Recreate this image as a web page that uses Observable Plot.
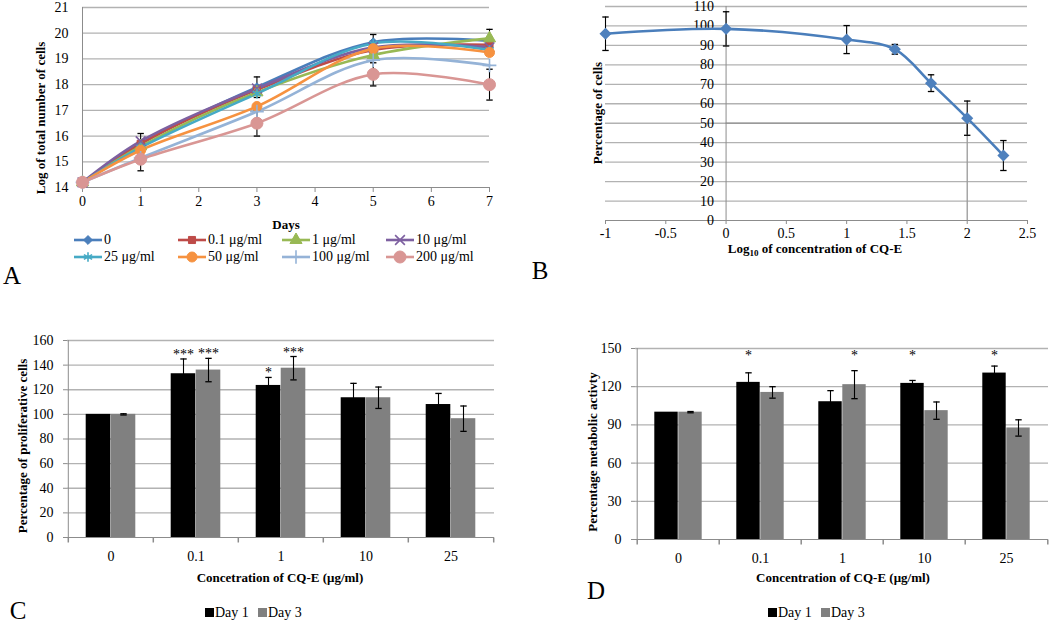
<!DOCTYPE html>
<html><head><meta charset="utf-8">
<script src="https://cdn.jsdelivr.net/npm/d3@7"></script>
<script src="https://cdn.jsdelivr.net/npm/@observablehq/plot@0.6"></script>
<style>
body{margin:0;background:#fff;font-family:"Liberation Serif",serif;}
#root{position:relative;width:1050px;height:623px;overflow:hidden;background:#fff;}
.t{position:absolute;white-space:nowrap;color:#000;line-height:1;}
.b{font-weight:bold;font-size:13px;}
.big{font-size:25px;}
.leg{font-size:14px;}
svg{overflow:visible;}
</style></head><body><div id="root"></div>
<script>
// ---------- Panel A data ----------
const days = [0, 1, 3, 5, 7];
const seriesA = ["0", "0.1 μg/ml", "1 μg/ml", "10 μg/ml", "25 μg/ml", "50 μg/ml", "100 μg/ml", "200 μg/ml"];
const logCells0   = [14.2, 15.7, 17.9, 19.65, 19.7];
const logCells01  = [14.2, 15.7, 17.8, 19.35, 19.55];
const logCells1   = [14.2, 15.6, 17.7, 19.15, 19.8];
const logCells10  = [14.2, 15.8, 17.85, 19.45, 19.45];
const logCells25  = [14.2, 15.55, 17.65, 19.6, 19.35];
const logCells50  = [14.2, 15.45, 17.15, 19.4, 19.25];
const logCells100 = [14.2, 15.15, 16.95, 18.95, 18.75];
const logCells200 = [14.2, 15.1, 16.5, 18.4, 18.0];
const errA0   = [0, 0.4, 0.4, 0.3, 0.45];
const errA200 = [0, 0.45, 0.5, 0.45, 0.6];

// ---------- Panel B data ----------
const logConc  = [-1, 0, 1, 1.4, 1.7, 2, 2.3];
const pctCells = [96, 98.5, 93, 88, 70.6, 52.6, 33.4];
const errB     = [8.6, 8.8, 7.2, 2.5, 4.3, 8.8, 7.7];
const ic50X = 2, ic50Y = 50;

// ---------- Panel C data ----------
const concs = ["0", "0.1", "1", "10", "25"];
const prolifDay1 = [100, 133, 123.5, 113.5, 108];
const prolifDay3 = [100, 136, 137.5, 113.5, 96.5];
const prolifErr1 = [0, 12, 6.5, 11.7, 9];
const prolifErr3 = [0.5, 9.5, 9.5, 8.7, 10.3];
const prolifStar1 = ["", "***", "*", "", ""];
const prolifStar3 = ["", "***", "***", "", ""];

// ---------- Panel D data ----------
const metabDay1 = [100, 123.4, 108.2, 122.6, 130.7];
const metabDay3 = [100, 115.5, 121.6, 101.2, 87.6];
const metabErr1 = [0, 7.5, 8.7, 2.3, 5.5];
const metabErr3 = [0.5, 4.5, 11, 6.8, 6.4];
const metabStar1 = ["", "*", "", "*", "*"];
const metabStar3 = ["", "", "*", "", ""];
const metabStarLevel = 141;

// ---------- styles ----------
const colorsA = ["#4A7EBB", "#BE4B48", "#98B954", "#7D60A0", "#46AAC5", "#F69240", "#95B3D7", "#D99694"];
const symbolsA = ["diamond2", "square", "triangle", "times", "asterisk", "circle", "plus", "circle"];
const radiiA = [4, 4, 4.5, 4.5, 4.5, 5, 4.5, 6];
const strokeOnly = new Set(["times", "asterisk", "plus"]);
const d3Sym = {diamond2: d3.symbolDiamond2, square: d3.symbolSquare, triangle: d3.symbolTriangle, times: d3.symbolTimes, asterisk: d3.symbolAsterisk, circle: d3.symbolCircle, plus: d3.symbolPlus};
const gridColor = "#b2b2b2", axisColor = "#8c8c8c";
const font = '"Liberation Serif", serif';
const baseStyle = {fontFamily: font, fontSize: "14px", color: "#000", background: "none", overflow: "visible"};

const capSymbol = {draw(ctx, size) { const w = Math.sqrt(size / Math.PI); ctx.moveTo(-w, 0); ctx.lineTo(w, 0); }};
const vTick = {draw(ctx, size) { const h = Math.sqrt(size / Math.PI); ctx.moveTo(0, 0); ctx.lineTo(0, h); }};

const root = document.getElementById("root");
function place(el, left, top) { el.style.position = "absolute"; el.style.left = left + "px"; el.style.top = top + "px"; root.appendChild(el); }
function label(html, x, y, cls, rotate) {
  const d = document.createElement("div");
  d.className = "t " + cls; d.innerHTML = html;
  d.style.left = x + "px"; d.style.top = y + "px";
  d.style.transform = rotate ? "translate(-50%,-50%) rotate(-90deg)" : "translate(-50%,-50%)";
  root.appendChild(d);
}
function errorMarks(rows, x, lo, hi, dx, extra = {}) {
  return [
    Plot.ruleX(rows, {x, y1: lo, y2: hi, dx, stroke: "#000", strokeWidth: 1.1, ...extra}),
    Plot.dot(rows, {x, y: hi, dx, symbol: capSymbol, r: 3.2, fill: "none", stroke: "#000", strokeWidth: 1.3}),
    Plot.dot(rows, {x, y: lo, dx, symbol: capSymbol, r: 3.2, fill: "none", stroke: "#000", strokeWidth: 1.3})
  ];
}

// ================= Panel A =================
const valuesA = [logCells0, logCells01, logCells1, logCells10, logCells25, logCells50, logCells100, logCells200];
const rowsA = [];
seriesA.forEach((s, k) => valuesA[k].forEach((v, i) => rowsA.push({series: s, day: days[i], value: v})));
const errRowsA = [];
[[logCells0, errA0], [logCells200, errA200]].forEach(([vals, errs]) =>
  vals.forEach((v, i) => { if (errs[i] > 0) errRowsA.push({day: days[i], lo: v - errs[i], hi: v + errs[i]}); }));

const plotA = Plot.plot({
  width: 520, height: 215,
  marginLeft: 82, marginRight: 31, marginTop: 7, marginBottom: 28,
  style: baseStyle,
  x: {domain: [0, 7]},
  y: {domain: [14, 21]},
  color: {domain: seriesA, range: colorsA},
  marks: [
    Plot.ruleY(d3.range(15, 22), {stroke: gridColor, strokeWidth: 1.3}),
    Plot.ruleY([14], {stroke: axisColor}),
    Plot.ruleX([0], {stroke: axisColor}),
    Plot.axisX(d3.range(0, 8), {tickSize: 5, tickPadding: 4, stroke: axisColor, fill: "#000", label: null, tickFormat: d => String(d)}),
    Plot.axisY(d3.range(14, 22), {tickSize: 0, tickPadding: 14, fill: "#000", label: null}),
    Plot.line(rowsA, {x: "day", y: "value", z: "series", stroke: "series", strokeWidth: 2.6, curve: "catmull-rom"}),
    ...errorMarks(errRowsA, "day", "lo", "hi", 0),
    ...seriesA.map((s, k) => Plot.dot(rowsA.filter(d => d.series === s), {
      x: "day", y: "value", symbol: symbolsA[k], r: radiiA[k],
      fill: strokeOnly.has(symbolsA[k]) ? "none" : colorsA[k],
      stroke: colorsA[k], strokeWidth: strokeOnly.has(symbolsA[k]) ? 1.6 : 1
    }))
  ]
});
place(plotA, 0, 0);
label("Log of total number of cells", 40, 118, "b", true);
label("Days", 286, 224, "b");

// legend A
const legendColsA = [74, 178, 282, 386], legendRowsA = [240, 257];
seriesA.forEach((s, k) => {
  const x = legendColsA[k % 4], y = legendRowsA[Math.floor(k / 4)];
  const svg = d3.create("svg").attr("width", 28).attr("height", 14);
  svg.append("line").attr("x1", 0).attr("x2", 28).attr("y1", 7).attr("y2", 7).attr("stroke", colorsA[k]).attr("stroke-width", 2.6);
  const so = strokeOnly.has(symbolsA[k]);
  svg.append("path").attr("transform", "translate(14,7)")
    .attr("d", d3.symbol(d3Sym[symbolsA[k]], Math.PI * radiiA[k] * radiiA[k])())
    .attr("fill", so ? "none" : colorsA[k]).attr("stroke", colorsA[k]).attr("stroke-width", so ? 1.6 : 1);
  place(svg.node(), x, y - 7);
  const t = document.createElement("div");
  t.className = "t leg"; t.textContent = s;
  t.style.left = (x + 30) + "px"; t.style.top = (y - 7) + "px";
  root.appendChild(t);
});
label("A", 12, 275, "big");

// ================= Panel B =================
const rowsB = logConc.map((x, i) => ({x, y: pctCells[i], lo: pctCells[i] - errB[i], hi: pctCells[i] + errB[i]}));
const ticksBY = d3.range(0, 111, 10);
const plotB = Plot.plot({
  width: 530, height: 250,
  marginLeft: 85, marginRight: 23, marginTop: 6, marginBottom: 30,
  style: baseStyle,
  x: {domain: [-1, 2.5]},
  y: {domain: [0, 110], axis: null},
  marks: [
    Plot.ruleY(d3.range(10, 111, 10), {stroke: gridColor, strokeWidth: 1.3}),
    Plot.ruleY([ic50Y], {x1: 0, x2: ic50X, stroke: "#9a9a9a", strokeWidth: 1.3}),
    Plot.ruleY([0], {stroke: axisColor}),
    Plot.ruleX([0], {stroke: axisColor}),
    Plot.ruleX([ic50X], {y1: 0, y2: ic50Y, stroke: "#9a9a9a", strokeWidth: 1.3}),
    Plot.axisX(d3.range(-1, 2.51, 0.5), {tickSize: 4, tickPadding: 4, stroke: axisColor, fill: "#000", label: null, tickFormat: d => String(d)}),
    Plot.text(ticksBY, {x: 0, y: d => d, text: d => String(d), textAnchor: "end", dx: -12, fill: "#000"}),
    Plot.line(rowsB, {x: "x", y: "y", stroke: "#4A7EBB", strokeWidth: 2.6, curve: "catmull-rom"}),
    ...errorMarks(rowsB, "x", "lo", "hi", 0),
    Plot.dot(rowsB, {x: "x", y: "y", symbol: "diamond2", r: 4.5, fill: "#4F81BD", stroke: "#4F81BD"})
  ]
});
place(plotB, 520, 0);
label("Percentage of cells", 597, 113, "b", true);
label("Log<sub style='font-size:9px'>10</sub> of concentration of CQ-E", 815, 250, "b");
label("B", 540, 270, "big");

// ================= Bar panels =================
function barPanel({width, height, ml, mr, mt, mb, yMax, yStep, v1, v3, e1, e3, s1, s3, barW, starLevel}) {
  const bw = (width - ml - mr) / concs.length;
  const rows = concs.map((c, i) => ({c, v1: v1[i], v3: v3[i], e1: e1[i], e3: e3[i], s1: s1[i], s3: s3[i]}));
  const r1 = rows.filter(d => d.e1 > 0), r3 = rows.filter(d => d.e3 > 0);
  const starY1 = starLevel != null ? () => starLevel : d => d.v1 + d.e1;
  const starY3 = starLevel != null ? () => starLevel : d => d.v3 + d.e3;
  return Plot.plot({
    width, height, marginLeft: ml, marginRight: mr, marginTop: mt, marginBottom: mb,
    style: baseStyle,
    x: {domain: concs, padding: 0},
    y: {domain: [0, yMax]},
    marks: [
      Plot.ruleY(d3.range(yStep, yMax + 1, yStep), {stroke: gridColor, strokeWidth: 1.3}),
      Plot.axisY(d3.range(0, yMax + 1, yStep), {tickSize: 4, tickPadding: 10, stroke: axisColor, fill: "#000", label: null}),
      Plot.axisX(concs, {tickSize: 0, tickPadding: 14, fill: "#000", label: null}),
      Plot.barY(rows, {x: "c", y: "v1", fill: "#000", insetLeft: bw / 2 - barW, insetRight: bw / 2}),
      Plot.barY(rows, {x: "c", y: "v3", fill: "#808080", insetLeft: bw / 2, insetRight: bw / 2 - barW}),
      ...errorMarks(r1, "c", d => d.v1 - d.e1, d => d.v1 + d.e1, -barW / 2),
      ...errorMarks(r3, "c", d => d.v3 - d.e3, d => d.v3 + d.e3, barW / 2),
      Plot.ruleY([0], {stroke: axisColor}),
      Plot.ruleX([concs[0]], {dx: -bw / 2, stroke: axisColor}),
      Plot.dot(concs, {x: d => d, y: 0, dx: -bw / 2, symbol: vTick, r: 5, fill: "none", stroke: axisColor}),
      Plot.dot([concs[concs.length - 1]], {x: d => d, y: 0, dx: bw / 2, symbol: vTick, r: 5, fill: "none", stroke: axisColor}),
      Plot.text(rows.filter(d => d.s1), {x: "c", y: starY1, text: "s1", dx: -barW / 2, lineAnchor: "bottom", fontSize: 14, fill: "#000"}),
      Plot.text(rows.filter(d => d.s3), {x: "c", y: starY3, text: "s3", dx: barW / 2, lineAnchor: "bottom", fontSize: 14, fill: "#000"})
    ]
  });
}

const plotC = barPanel({width: 520, height: 240, ml: 67, mr: 26, mt: 10, mb: 33, yMax: 160, yStep: 20,
  v1: prolifDay1, v3: prolifDay3, e1: prolifErr1, e3: prolifErr3, s1: prolifStar1, s3: prolifStar3, barW: 25, starLevel: null});
place(plotC, 0, 330);
label("Percentage of proliferative cells", 22, 446, "b", true);
label("Concetration of CQ-E (μg/ml)", 280, 577, "b");
label("C", 18, 610, "big");

const plotD = barPanel({width: 530, height: 240, ml: 115, mr: 2, mt: 18, mb: 31, yMax: 150, yStep: 30,
  v1: metabDay1, v3: metabDay3, e1: metabErr1, e3: metabErr3, s1: metabStar1, s3: metabStar3, barW: 24, starLevel: metabStarLevel});
place(plotD, 520, 330);
label("Percentage metabolic activty", 592, 452, "b", true);
label("Concentration of CQ-E (μg/ml)", 843, 577, "b");
label("D", 596, 590, "big");

// bar legends
function barLegend(x, y) {
  [["Day 1", "#000"], ["Day 3", "#808080"]].forEach(([name, col], k) => {
    const sw = document.createElement("div");
    sw.style.width = "9px"; sw.style.height = "9px"; sw.style.background = col;
    place(sw, x + k * 53, y - 5);
    const t = document.createElement("div");
    t.className = "t leg"; t.textContent = name;
    t.style.left = (x + k * 53 + 10) + "px"; t.style.top = (y - 7) + "px";
    root.appendChild(t);
  });
}
barLegend(205, 613);
barLegend(768, 613);
</script></body></html>
